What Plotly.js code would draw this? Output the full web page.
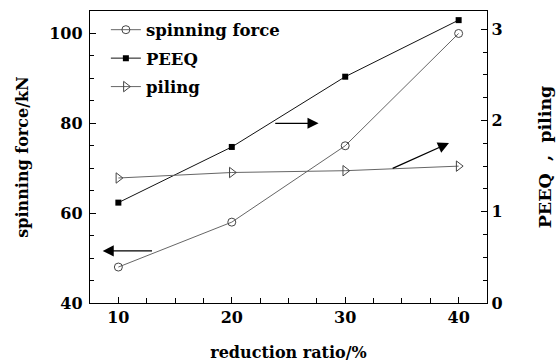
<!DOCTYPE html>
<html>
<head>
<meta charset="utf-8">
<script src="https://cdn.plot.ly/plotly-3.0.1.min.js"></script>
<style>html,body{margin:0;padding:0;background:#fff;}#chart{width:558px;height:362px;}</style>
</head>
<body>
<div id="chart"></div>
<script>
const reductionRatio = [10, 20, 30, 40];
const spinningForce = [48, 58, 75, 100];
const peeq = [1.10, 1.71, 2.48, 3.10];
const piling = [1.37, 1.43, 1.45, 1.50];
const seriesNames = ['spinning force', 'PEEQ', 'piling'];

const FONT = 'DejaVu Serif, serif';

const traces = [
  {x: reductionRatio, y: spinningForce, name: seriesNames[0], yaxis: 'y', type: 'scatter', mode: 'lines+markers',
   legendgroup: 'a',
   line: {color: '#666', width: 1}, marker: {symbol: 'circle-open', size: 8, color: '#444', line: {width: 1}}},
  {x: reductionRatio, y: peeq, name: seriesNames[1], yaxis: 'y2', type: 'scatter', mode: 'lines+markers',
   legendgroup: 'b',
   line: {color: '#111', width: 1}, marker: {symbol: 'square', size: 6, color: '#000'}},
  {x: reductionRatio, y: piling, name: seriesNames[2], yaxis: 'y2', type: 'scatter', mode: 'lines+markers',
   legendgroup: 'c',
   line: {color: '#666', width: 1}, marker: {symbol: 'triangle-right-open', size: 9, color: '#444', line: {width: 1}}}
];

const arrowStyle = {showarrow: true, arrowhead: 2, arrowsize: 1.7, arrowwidth: 1.3, arrowcolor: '#000', text: '', standoff: 0, startstandoff: 0};
const annotations = [
  Object.assign({xref: 'x', yref: 'y', axref: 'x', ayref: 'y', x: 8.62, y: 51.6, ax: 13.1, ay: 51.6}, arrowStyle),
  Object.assign({xref: 'x', yref: 'y', axref: 'x', ayref: 'y', x: 27.65, y: 80.0, ax: 23.7, ay: 80.0}, arrowStyle),
  Object.assign({xref: 'x', yref: 'y', axref: 'x', ayref: 'y', x: 39.15, y: 75.6, ax: 34.05, ay: 69.8}, arrowStyle)
];

const layout = {
  width: 558, height: 362,
  margin: {l: 90, r: 71, t: 11, b: 59},
  paper_bgcolor: '#fff', plot_bgcolor: '#fff',
  font: {family: FONT, size: 16, color: '#000', weight: 'bold'},
  showlegend: true,
  legend: {x: 0.04, y: 0.995, xanchor: 'left', yanchor: 'top', bgcolor: 'rgba(0,0,0,0)',
           font: {family: FONT, size: 16.5, weight: 'bold'}, itemwidth: 30, traceorder: 'grouped', tracegroupgap: 4},
  xaxis: {range: [7.5, 42.5], tick0: 10, dtick: 10, ticks: 'inside', ticklen: 6, tickwidth: 1.2, tickcolor: '#000',
          showline: true, linecolor: '#000', linewidth: 1.2, mirror: true, showgrid: false, zeroline: false,
          minor: {dtick: 2.5, ticks: 'inside', ticklen: 5, tickwidth: 1, tickcolor: '#000', showgrid: false},
          tickfont: {family: FONT, size: 16, weight: 'bold'},
          title: {text: 'reduction ratio/%', font: {family: FONT, size: 16, weight: 'bold'}, standoff: 20}},
  yaxis: {range: [40, 105], tick0: 40, dtick: 20, ticks: 'inside', ticklen: 6, tickwidth: 1.2, tickcolor: '#000',
          showline: true, linecolor: '#000', linewidth: 1.2, showgrid: false, zeroline: false,
          minor: {dtick: 5, ticks: 'inside', ticklen: 4, tickwidth: 1, tickcolor: '#000', showgrid: false},
          ticklabelstandoff: 3,
          tickfont: {family: FONT, size: 16, weight: 'bold'},
          title: {text: 'spinning force/kN', font: {family: FONT, size: 16, weight: 'bold'}, standoff: 16}},
  yaxis2: {range: [0, 3.2], tick0: 0, dtick: 1, overlaying: 'y', side: 'right', ticks: 'inside', ticklen: 6, tickwidth: 1.2, tickcolor: '#000',
          showline: true, linecolor: '#000', linewidth: 1.2, showgrid: false, zeroline: false,
          minor: {dtick: 0.25, ticks: 'inside', ticklen: 4, tickwidth: 1, tickcolor: '#000', showgrid: false},
          tickfont: {family: FONT, size: 16, weight: 'bold'},
          title: {text: '\u00A0\u00A0\u00A0PEEQ\u00A0\u00A0,\u00A0\u00A0piling', font: {family: FONT, size: 17.5, weight: 'bold'}, standoff: 37}},
  annotations: annotations
};

Plotly.newPlot('chart', traces, layout, {displayModeBar: false, staticPlot: true});
</script>
</body>
</html>
